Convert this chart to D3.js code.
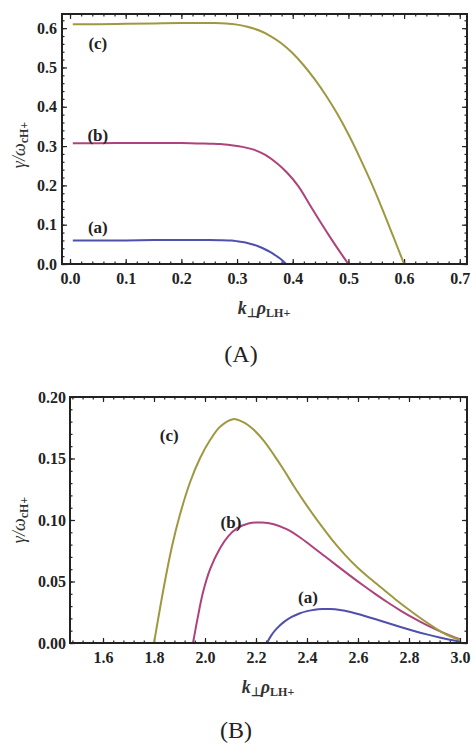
<!DOCTYPE html>
<html><head><meta charset="utf-8">
<script src="https://cdn.jsdelivr.net/npm/d3@7"></script>
<style>body{margin:0;background:#fff}svg{display:block}
text{font-family:'Liberation Serif','Times New Roman',serif}</style>
</head><body>
<svg id="fig" width="471" height="744"></svg>
<script>
// ---------- data: panel (A) ----------
const topA_x = [0.005,0.05,0.1,0.15,0.2,0.25,0.27,0.29,0.30,0.31,0.32,0.33,0.34,0.35,0.36,0.37,0.38,0.388];
const topA_y = [0.060,0.060,0.060,0.061,0.061,0.061,0.0605,0.0595,0.058,0.056,0.053,0.049,0.044,0.0375,0.030,0.021,0.011,0];
const topB_x = [0.005,0.05,0.1,0.15,0.2,0.25,0.27,0.29,0.31,0.33,0.35,0.37,0.39,0.41,0.43,0.45,0.47,0.49,0.50];
const topB_y = [0.307,0.307,0.308,0.308,0.308,0.306,0.305,0.302,0.298,0.291,0.278,0.258,0.232,0.198,0.152,0.106,0.062,0.020,0];
const topC_x = [0.005,0.05,0.1,0.15,0.2,0.26,0.28,0.30,0.32,0.34,0.36,0.38,0.40,0.42,0.44,0.46,0.48,0.50,0.52,0.54,0.56,0.58,0.60];
const topC_y = [0.610,0.610,0.611,0.612,0.613,0.613,0.612,0.609,0.603,0.594,0.580,0.561,0.536,0.505,0.469,0.428,0.382,0.330,0.272,0.210,0.143,0.072,0];
const topXTicks = [0.0,0.1,0.2,0.3,0.4,0.5,0.6,0.7];
const topYTicks = [0.0,0.1,0.2,0.3,0.4,0.5,0.6];
const topLabels = ["(a)","(b)","(c)"];
const topLabelPos = [[0.05,0.093],[0.05,0.327],[0.05,0.56]];

// ---------- data: panel (B) ----------
const botA_x = [2.243,2.26,2.28,2.31,2.34,2.37,2.40,2.43,2.46,2.49,2.53,2.57,2.62,2.67,2.72,2.77,2.82,2.87,2.92,2.96,3.0];
const botA_y = [0,0.0062,0.0115,0.0172,0.0212,0.0240,0.0259,0.0271,0.0276,0.0276,0.0268,0.0252,0.0224,0.0193,0.0160,0.0128,0.0098,0.0070,0.0045,0.0027,0.0012];
const botB_x = [1.953,1.97,1.992,2.02,2.059,2.09,2.125,2.17,2.224,2.27,2.32,2.37,2.42,2.47,2.52,2.57,2.62,2.67,2.72,2.77,2.82,2.87,2.92,2.96,3.0];
const botB_y = [0,0.019,0.041,0.060,0.077,0.0865,0.0932,0.0972,0.098,0.0965,0.0925,0.0862,0.0785,0.0705,0.0625,0.0546,0.0469,0.0395,0.0325,0.026,0.020,0.0145,0.0097,0.0062,0.003];
const botC_x = [1.80,1.82,1.84,1.87,1.90,1.941,1.98,2.02,2.06,2.11,2.15,2.19,2.23,2.27,2.31,2.35,2.40,2.45,2.50,2.55,2.60,2.65,2.70,2.75,2.80,2.85,2.90,2.95,3.0];
const botC_y = [0,0.024,0.047,0.078,0.103,0.1305,0.150,0.165,0.176,0.182,0.1795,0.1735,0.1645,0.153,0.1405,0.127,0.1115,0.097,0.0835,0.0715,0.061,0.052,0.0435,0.035,0.027,0.0195,0.0125,0.0065,0.0025];
const botXTicks = [1.6,1.8,2.0,2.2,2.4,2.6,2.8,3.0];
const botYTicks = [0.00,0.05,0.10,0.15,0.20];
const botLabels = ["(a)","(b)","(c)"];
const botLabelPos = [[2.404,0.037],[2.102,0.098],[1.86,0.169]];

const colors = ["#4f4fae","#ad437a","#9e9840"];
const FONT = "'Liberation Serif','Times New Roman',serif";

const svg = d3.select("#fig");

function zip(xs, ys){ return xs.map((x,i)=>({x, y: ys[i]})); }

function panel(o){
  const g = svg.append("g");
  const x = d3.scaleLinear().domain(o.xDomain).range([o.left, o.right]);
  const y = d3.scaleLinear().domain(o.yDomain).range([o.bottom, o.top]);
  const mx = [], my = [];
  const x0 = Math.ceil(o.xDomain[0]/o.xMinor - 1e-6), x1 = Math.floor(o.xDomain[1]/o.xMinor + 1e-6);
  for (let k = x0; k <= x1; k++) mx.push(+(k*o.xMinor).toFixed(6));
  const y0 = Math.ceil(o.yDomain[0]/o.yMinor - 1e-6), y1 = Math.floor(o.yDomain[1]/o.yMinor + 1e-6);
  for (let k = y0; k <= y1; k++) my.push(+(k*o.yMinor).toFixed(6));
  const ink = "#222";
  const addAxis = (axis, tf) => {
    const a = g.append("g").attr("transform", tf).call(axis);
    a.attr("font-family", null).attr("font-size", null);
    a.select(".domain").remove();
    a.selectAll("line").attr("stroke", ink).attr("stroke-width", 1.2);
    return a;
  };
  addAxis(d3.axisBottom(x).tickValues(mx).tickSize(-2.5).tickFormat(""), `translate(0,${o.bottom})`);
  addAxis(d3.axisTop(x).tickValues(mx).tickSize(-2.5).tickFormat(""), `translate(0,${o.top})`);
  addAxis(d3.axisLeft(y).tickValues(my).tickSize(-2.5).tickFormat(""), `translate(${o.left},0)`);
  addAxis(d3.axisRight(y).tickValues(my).tickSize(-2.5).tickFormat(""), `translate(${o.right},0)`);
  const xb = addAxis(d3.axisBottom(x).tickValues(o.xTicks).tickSize(-5).tickPadding(o.xPad).tickFormat(d3.format(o.xFmt)), `translate(0,${o.bottom})`);
  addAxis(d3.axisTop(x).tickValues(o.xTicks).tickSize(-5).tickFormat(""), `translate(0,${o.top})`);
  const yl = addAxis(d3.axisLeft(y).tickValues(o.yTicks).tickSize(-5).tickPadding(o.yPad).tickFormat(d3.format(o.yFmt)), `translate(${o.left},0)`);
  addAxis(d3.axisRight(y).tickValues(o.yTicks).tickSize(-5).tickFormat(""), `translate(${o.right},0)`);
  [xb, yl].forEach(a => a.selectAll("text")
      .style("font-family", FONT).style("font-weight","bold").style("font-size","16px").attr("fill", "#222"));
  const line = d3.line().x(d=>x(d.x)).y(d=>y(d.y)).curve(d3.curveCatmullRom.alpha(0.5));
  o.series.forEach((s,i)=>{
    g.append("path").datum(s).attr("d", line).attr("fill","none")
      .attr("stroke", colors[i]).attr("stroke-width", 2).attr("stroke-linejoin","round");
  });
  g.append("rect").attr("x", o.left).attr("y", o.top)
    .attr("width", o.right-o.left).attr("height", o.bottom-o.top)
    .attr("fill","none").attr("stroke", ink).attr("stroke-width", 2);
  o.labels.forEach((t,i)=>{
    g.append("text").attr("x", x(o.labelPos[i][0])).attr("y", y(o.labelPos[i][1]))
      .attr("text-anchor","middle").attr("dominant-baseline","central")
      .style("font-family", FONT).style("font-weight","bold").style("font-size","17px")
      .attr("fill","#222").text(t);
  });
  const xt = g.append("text").attr("x", o.xTitle[0]).attr("y", o.xTitle[1])
    .attr("text-anchor","middle").style("font-family", FONT).style("font-size","18px")
    .style("font-weight","bold").attr("fill","#333");
  xt.append("tspan").style("font-style","italic").text("k");
  xt.append("tspan").style("font-size","12px").attr("dy", 3).text("⊥");
  xt.append("tspan").style("font-style","italic").attr("dy", -3).text("ρ");
  xt.append("tspan").style("font-size","12px").attr("dy", 3).text("LH+");
  const yt = g.append("text")
    .attr("transform", `translate(${o.yTitle[0]},${o.yTitle[1]}) rotate(-90)`)
    .attr("text-anchor","middle").style("font-family", FONT).style("font-size","18px").attr("fill","#333");
  yt.append("tspan").style("font-style","italic").text("γ/ω");
  yt.append("tspan").style("font-size","12px").style("font-weight","bold").attr("dy", 3).text("cH+");
  g.append("text").attr("x", o.caption[0]).attr("y", o.caption[1])
    .attr("text-anchor","middle").attr("dominant-baseline","central")
    .style("font-family", FONT).style("font-size","24px").attr("fill","#222").text(o.captionText);
}

panel({
  left: 62, right: 467, top: 14, bottom: 264,
  xDomain: [-0.0144, 0.713], yDomain: [0, 0.636],
  xTicks: topXTicks, yTicks: topYTicks, xMinor: 0.02, yMinor: 0.02,
  xFmt: ".1f", yFmt: ".1f", xPad: 9, yPad: 5,
  series: [zip(topA_x, topA_y), zip(topB_x, topB_y), zip(topC_x, topC_y)],
  labels: topLabels, labelPos: topLabelPos,
  xTitle: [264, 314], yTitle: [25, 145], caption: [241, 354], captionText: "(A)"
});

panel({
  left: 70, right: 467, top: 397, bottom: 643,
  xDomain: [1.4706, 3.0275], yDomain: [0, 0.20],
  xTicks: botXTicks, yTicks: botYTicks, xMinor: 0.04, yMinor: 0.01,
  xFmt: ".1f", yFmt: ".2f", xPad: 9, yPad: 4,
  series: [zip(botA_x, botA_y), zip(botB_x, botB_y), zip(botC_x, botC_y)],
  labels: botLabels, labelPos: botLabelPos,
  xTitle: [268, 693], yTitle: [25, 520], caption: [236, 730], captionText: "(B)"
});
</script>
</body></html>
